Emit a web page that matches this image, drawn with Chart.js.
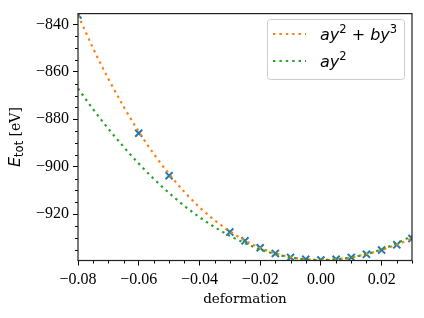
<!DOCTYPE html>
<html>
<head>
<meta charset="utf-8">
<script src="https://cdn.jsdelivr.net/npm/chart.js@4.4.1/dist/chart.umd.min.js"></script>
<style>
  html, body { margin: 0; padding: 0; background: #fff; }
</style>
</head>
<body>
<canvas id="energyChart" width="424" height="318"></canvas>
<script>
// computed points (deformation, total energy in eV)
const pointX = [-0.08, -0.06, -0.05, -0.03, -0.025, -0.02, -0.015, -0.01, -0.005, 0, 0.005, 0.01, 0.015, 0.02, 0.025, 0.03];
const pointE = [-836.0, -885.9, -903.8, -927.6, -931.3, -934.2, -936.6, -938.3, -939.1, -939.4, -939.1, -938.3, -937.0, -935.2, -933.0, -930.3];

// fitted curves, every 0.005
const fitX = [-0.08, -0.075, -0.07, -0.065, -0.06, -0.055, -0.05, -0.045, -0.04, -0.035, -0.03, -0.025,
              -0.02, -0.015, -0.01, -0.005, 0, 0.005, 0.01, 0.015, 0.02, 0.025, 0.03];
const cubicE = [-836.0, -850.1, -862.9, -874.6, -885.2, -894.7, -903.1, -910.6, -917.1, -922.6, -927.3, -931.2,
                -934.3, -936.6, -938.2, -939.1, -939.4, -939.1, -938.3, -936.9, -935.1, -932.9, -930.3];
const quadE = [-867.0, -875.8, -884.0, -891.6, -898.7, -905.2, -911.1, -916.5, -921.3, -925.5, -929.2, -932.3,
               -934.9, -936.9, -938.3, -939.1, -939.4, -939.1, -938.3, -936.9, -934.9, -932.3, -929.2];

const xTicks = [-0.08, -0.06, -0.04, -0.02, 0, 0.02];
const yTicks = [-920, -900, -880, -860, -840];

const blue = '#1f77b4', orange = '#ff7f0e', green = '#2ca02c';
const minus = s => s.replace('-', '\u2212');
const toPoints = (xs, ys) => xs.map((x, i) => ({ x: x, y: ys[i] }));

// draw a row of text pieces with different fonts / offsets
function drawRuns(ctx, runs, x, y) {
  runs.forEach(r => {
    ctx.font = r.font;
    ctx.fillText(r.t, x, y + (r.dy || 0));
    x += ctx.measureText(r.t).width;
  });
}
function runsWidth(ctx, runs) {
  let w = 0;
  runs.forEach(r => { ctx.font = r.font; w += ctx.measureText(r.t).width; });
  return w;
}

const mathIt = 'italic 16px "DejaVu Sans"';
const mathRm = '16px "DejaVu Sans"';
const mathSup = '11.5px "DejaVu Sans"';

const extras = {
  id: 'extras',
  afterDatasetsDraw(chart) {
    const ctx = chart.ctx;
    const a = chart.chartArea;
    const xs = chart.scales.x, ys = chart.scales.y;
    ctx.save();
    ctx.strokeStyle = '#000';
    ctx.lineWidth = 1;
    // minor ticks
    ctx.beginPath();
    for (let i = -16; i <= 6; i++) {
      if (i % 4 === 0) continue;
      const px = Math.round(xs.getPixelForValue(i * 0.005)) + 0.5;
      ctx.moveTo(px, a.bottom);
      ctx.lineTo(px, a.bottom + 3);
    }
    for (let v = -935; v <= -840; v += 5) {
      if (v % 20 === 0) continue;
      const py = Math.round(ys.getPixelForValue(v)) + 0.5;
      ctx.moveTo(a.left, py);
      ctx.lineTo(a.left - 3, py);
    }
    ctx.stroke();
    // frame
    ctx.strokeStyle = '#222';
    ctx.lineWidth = 1.2;
    ctx.strokeRect(a.left, a.top, a.right - a.left, a.bottom - a.top);
    ctx.restore();
  },
  afterDraw(chart) {
    const ctx = chart.ctx;
    const a = chart.chartArea;
    ctx.save();
    // legend box
    ctx.beginPath();
    ctx.roundRect(267.5, 19.5, 137, 60, 3);
    ctx.fillStyle = 'rgba(255,255,255,0.8)';
    ctx.fill();
    ctx.strokeStyle = '#cccccc';
    ctx.lineWidth = 1;
    ctx.stroke();
    const items = [
      { ds: chart.data.datasets[1], y: 34, runs: [
        { t: 'ay', font: mathIt }, { t: '2', font: mathSup, dy: -7 },
        { t: ' + ', font: mathRm }, { t: 'by', font: mathIt }, { t: '3', font: mathSup, dy: -7 }] },
      { ds: chart.data.datasets[0], y: 61, runs: [
        { t: 'ay', font: mathIt }, { t: '2', font: mathSup, dy: -7 }] }
    ];
    items.forEach(it => {
      ctx.beginPath();
      ctx.setLineDash(it.ds.borderDash);
      ctx.strokeStyle = it.ds.borderColor;
      ctx.lineWidth = it.ds.borderWidth;
      ctx.moveTo(273, it.y);
      ctx.lineTo(306, it.y);
      ctx.stroke();
      ctx.setLineDash([]);
      ctx.fillStyle = '#000';
      ctx.textBaseline = 'alphabetic';
      ctx.textAlign = 'left';
      drawRuns(ctx, it.runs, 320, it.y + 5.5);
    });
    // y axis title
    const yRuns = [
      { t: 'E', font: mathIt },
      { t: 'tot', font: '11.5px "DejaVu Sans"', dy: 3.5 },
      { t: ' [eV]', font: '14px "DejaVu Serif"' }
    ];
    ctx.translate(19.5, (a.top + a.bottom) / 2);
    ctx.rotate(-Math.PI / 2);
    drawRuns(ctx, yRuns, -runsWidth(ctx, yRuns) / 2, 0);
    ctx.restore();
  }
};

const tickFont = { family: '"Liberation Serif"', size: 16 };

new Chart(document.getElementById('energyChart'), {
  type: 'scatter',
  data: {
    datasets: [
      {
        label: 'ay^2',
        data: toPoints(fitX, quadE),
        showLine: true,
        borderColor: green,
        borderWidth: 2.2,
        borderDash: [2.4, 4],
        pointRadius: 0,
        cubicInterpolationMode: 'monotone',
        order: 0
      },
      {
        label: 'ay^2 + by^3',
        data: toPoints(fitX, cubicE),
        showLine: true,
        borderColor: orange,
        borderWidth: 2.2,
        borderDash: [2.4, 4],
        pointRadius: 0,
        cubicInterpolationMode: 'monotone',
        order: 1
      },
      {
        label: 'points',
        data: toPoints(pointX, pointE),
        pointStyle: 'crossRot',
        pointRadius: 5,
        pointBorderWidth: 2,
        borderColor: blue,
        backgroundColor: blue,
        clip: 0,
        order: 2
      }
    ]
  },
  options: {
    responsive: false,
    animation: false,
    devicePixelRatio: 1,
    layout: { padding: { top: 10.5, right: 12, left: 0, bottom: 0 } },
    plugins: { legend: { display: false }, tooltip: { enabled: false } },
    scales: {
      x: {
        type: 'linear',
        min: -0.08,
        max: 0.03,
        afterBuildTicks: s => { s.ticks = xTicks.map(v => ({ value: v })); },
        afterFit: s => { s.height = 57.5; },
        ticks: {
          callback: v => minus(v.toFixed(2)),
          font: tickFont,
          color: '#000',
          padding: 5,
          autoSkip: false,
          maxRotation: 0
        },
        grid: { drawOnChartArea: false, drawTicks: true, tickLength: 5, tickColor: '#000', tickWidth: 1 },
        border: { display: false },
        title: {
          display: true,
          text: 'deformation',
          color: '#000',
          font: { family: '"DejaVu Serif"', size: 13.5 },
          padding: { top: 0, bottom: 10 }
        }
      },
      y: {
        type: 'linear',
        min: -939.6,
        max: -835.4,
        afterBuildTicks: s => { s.ticks = yTicks.map(v => ({ value: v })); },
        afterFit: s => { s.width = 78; },
        ticks: {
          callback: v => minus(String(v)),
          font: tickFont,
          color: '#000',
          padding: 4,
          autoSkip: false
        },
        grid: { drawOnChartArea: false, drawTicks: true, tickLength: 5, tickColor: '#000', tickWidth: 1 },
        border: { display: false }
      }
    }
  },
  plugins: [extras]
});
</script>
</body>
</html>
